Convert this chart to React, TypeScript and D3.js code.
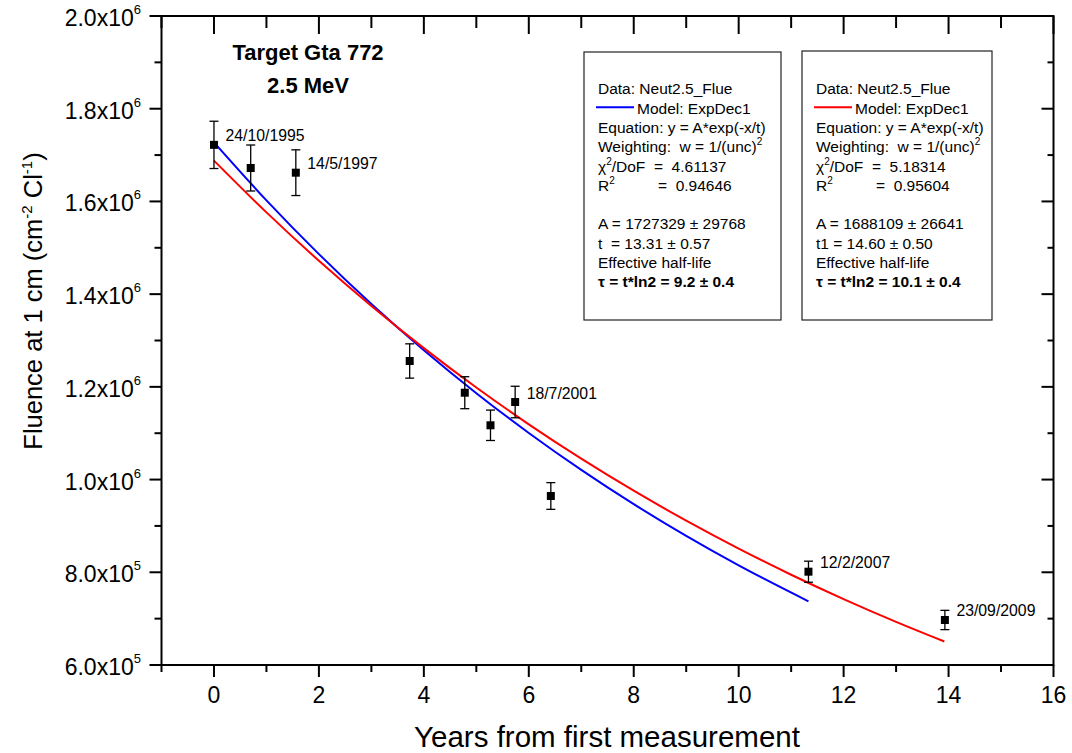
import React from 'react';
import * as d3 from 'd3';

// ---- data ----
const years = [0, 0.7, 1.56, 3.73, 4.78, 5.27, 5.74, 6.42, 11.33, 13.93];
const fluence = [1.722e6, 1.6721e6, 1.662e6, 1.2558e6, 1.1874e6, 1.1171e6, 1.1673e6, 9.646e5, 8.013e5, 6.971e5];
const fluenceErr = [51000, 49600, 49300, 37000, 34500, 32800, 34000, 28800, 22700, 20800];

const dateIdx = [0, 2, 6, 8, 9];
const dateLabels = ['24/10/1995', '14/5/1997', '18/7/2001', '12/2/2007', '23/09/2009'];

// fitted curves
const blueX = [0, 1, 2, 3, 4, 5, 6, 7, 8, 9, 10, 11.33];
const blueY = [1727329, 1602303, 1486336, 1378771, 1278966, 1186400, 1100524, 1020868, 946990, 878433, 814868, 737362];
const redX = [0, 1, 2, 3, 4, 5, 6, 7, 8, 9, 10, 11, 12, 13, 13.92];
const redY = [1688109, 1576356, 1472000, 1374560, 1283555, 1198591, 1119234, 1045144, 975948, 911345, 851010, 794678, 742075, 692950, 650614];

const xMajor = [0, 2, 4, 6, 8, 10, 12, 14, 16];
const xMinor = [-1, 1, 3, 5, 7, 9, 11, 13, 15];
const yMajor = [6e5, 8e5, 1e6, 1.2e6, 1.4e6, 1.6e6, 1.8e6, 2e6];
const yMinor = [7e5, 9e5, 1.1e6, 1.3e6, 1.5e6, 1.7e6, 1.9e6];

const titleLines = ['Target Gta 772', '2.5 MeV'];

const fit1 = { chi: '4.61137', r2: '0.94646', A: 'A = 1727329 ± 29768', t: 't  = 13.31 ± 0.57', tau: 'τ = t*ln2 = 9.2 ± 0.4', color: '#0000ff' };
const fit2 = { chi: '5.18314', r2: '0.95604', A: 'A = 1688109 ± 26641', t: 't1 = 14.60 ± 0.50', tau: 'τ = t*ln2 = 10.1 ± 0.4', color: '#ff0000' };

const FONT = '"Liberation Sans", Arial, Helvetica, sans-serif';

const x = d3.scaleLinear().domain([-1, 16]).range([161.5, 1053.5]);
const y = d3.scaleLinear().domain([6e5, 2e6]).range([665, 16]);

function LegendBox({ bx, by, bw, bh, fit }: any) {
  const tx = bx + 14;
  const lh = 19.3;
  const b0 = 94.3;
  const fs = 15.5;
  return (
    <g fontFamily={FONT} fontSize={fs} fill="#000">
      <rect x={bx} y={by} width={bw} height={bh} fill="#fff" stroke="#222" strokeWidth={1.2} />
      <text x={tx} y={b0}>Data: Neut2.5_Flue</text>
      <line x1={bx + 12} x2={bx + 50} y1={b0 + lh - 6.3} y2={b0 + lh - 6.3} stroke={fit.color} strokeWidth={2} />
      <text x={bx + 53} y={b0 + lh}>Model: ExpDec1</text>
      <text x={tx} y={b0 + 2 * lh}>Equation: y = A*exp(-x/t)</text>
      <text x={tx} y={b0 + 3 * lh} xmlSpace="preserve">
        Weighting:  w = 1/(unc)<tspan dy={-7} fontSize={10}>2</tspan>
      </text>
      <text x={tx} y={b0 + 4 * lh} xmlSpace="preserve">
        χ<tspan dy={-7} fontSize={10}>2</tspan><tspan dy={7}>/DoF  =  {fit.chi}</tspan>
      </text>
      <text x={tx} y={b0 + 5 * lh}>
        R<tspan dy={-7} fontSize={10}>2</tspan>
      </text>
      <text x={tx + 60} y={b0 + 5 * lh} xmlSpace="preserve">=  {fit.r2}</text>
      <text x={tx} y={b0 + 7 * lh}>{fit.A}</text>
      <text x={tx} y={b0 + 8 * lh} xmlSpace="preserve">{fit.t}</text>
      <text x={tx} y={b0 + 9 * lh}>Effective half-life</text>
      <text x={tx} y={b0 + 10 * lh} fontWeight="bold">{fit.tau}</text>
    </g>
  );
}

export default function App() {
  const line = d3.line<[number, number]>().x(d => x(d[0])).y(d => y(d[1])).curve(d3.curveMonotoneX);
  const bluePath = line(blueX.map((v, i) => [v, blueY[i]]) as [number, number][]) || '';
  const redPath = line(redX.map((v, i) => [v, redY[i]]) as [number, number][]) || '';
  const [L, R] = x.range();
  const [B, T] = y.range();
  const sw = 2;
  return (
    <svg width={1072} height={753} style={{ position: 'absolute', left: 0, top: 0, background: '#fff' }} fontFamily={FONT}>
      <rect x={0} y={0} width={1072} height={753} fill="#fff" />
      {/* curves */}
      <path d={bluePath} fill="none" stroke="#0000ff" strokeWidth={2} />
      <path d={redPath} fill="none" stroke="#ff0000" strokeWidth={2} />
      {/* data with error bars */}
      {years.map((yr, i) => {
        const cx = x(yr);
        const y1 = y(fluence[i] + fluenceErr[i]);
        const y2 = y(fluence[i] - fluenceErr[i]);
        return (
          <g key={i} stroke="#000" strokeWidth={1.3}>
            <line x1={cx} x2={cx} y1={y1} y2={y2} />
            <line x1={cx - 4.5} x2={cx + 4.5} y1={y1} y2={y1} />
            <line x1={cx - 4.5} x2={cx + 4.5} y1={y2} y2={y2} />
            <rect x={cx - 4} y={y(fluence[i]) - 4} width={8} height={8} fill="#000" stroke="none" />
          </g>
        );
      })}
      {dateIdx.map((idx, k) => (
        <text key={k} x={x(years[idx]) + 11.5} y={y(fluence[idx]) - 3.5} fontSize={15.8} fill="#000">{dateLabels[k]}</text>
      ))}
      {/* legend boxes */}
      <LegendBox bx={584} by={52} bw={197} bh={268} fit={fit1} />
      <LegendBox bx={802} by={51} bw={190} bh={269} fit={fit2} />
      {/* title */}
      {titleLines.map((t, i) => (
        <text key={i} x={308} y={60 + i * 32.7} textAnchor="middle" fontWeight="bold" fontSize={22}>{t}</text>
      ))}
      {/* frame */}
      <rect x={L} y={T} width={R - L} height={B - T} fill="none" stroke="#000" strokeWidth={sw} />
      {/* bottom ticks (outward) + top ticks (inward) */}
      {xMajor.map(v => (
        <g key={'xM' + v} stroke="#000" strokeWidth={sw}>
          <line x1={x(v)} x2={x(v)} y1={B} y2={B + 12} />
          <line x1={x(v)} x2={x(v)} y1={T} y2={T + 18} />
        </g>
      ))}
      {xMinor.map(v => (
        <g key={'xm' + v} stroke="#000" strokeWidth={sw}>
          <line x1={x(v)} x2={x(v)} y1={B} y2={B + 7} />
          <line x1={x(v)} x2={x(v)} y1={T} y2={T + 12} />
        </g>
      ))}
      {xMajor.map(v => (
        <text key={'xl' + v} x={x(v)} y={703} textAnchor="middle" fontSize={23}>{v}</text>
      ))}
      {/* left ticks (outward) + right ticks (inward) */}
      {yMajor.map(v => (
        <g key={'yM' + v} stroke="#000" strokeWidth={sw}>
          <line x1={L} x2={L - 12} y1={y(v)} y2={y(v)} />
          <line x1={R} x2={R - 12} y1={y(v)} y2={y(v)} />
        </g>
      ))}
      {yMinor.map(v => (
        <g key={'ym' + v} stroke="#000" strokeWidth={sw}>
          <line x1={L} x2={L - 7} y1={y(v)} y2={y(v)} />
          <line x1={R} x2={R - 6} y1={y(v)} y2={y(v)} />
        </g>
      ))}
      {yMajor.map(v => {
        const e = Math.floor(Math.log10(v) + 1e-9);
        const m = (v / Math.pow(10, e)).toFixed(1);
        return (
          <text key={'yl' + v} x={141} y={y(v) + 10} textAnchor="end" fontSize={23}>
            {m}x10<tspan dy={-12} fontSize={13}>{e}</tspan>
          </text>
        );
      })}
      {/* axis titles */}
      <text x={607} y={747} textAnchor="middle" fontSize={29.5}>Years from first measurement</text>
      <text transform="translate(42,301) rotate(-90)" textAnchor="middle" fontSize={25.5}>
        Fluence at 1 cm (cm<tspan dy={-10} fontSize={15}>-2</tspan><tspan dy={10}> Cl</tspan><tspan dy={-10} fontSize={15}>-1</tspan><tspan dy={10}>)</tspan>
      </text>
    </svg>
  );
}
